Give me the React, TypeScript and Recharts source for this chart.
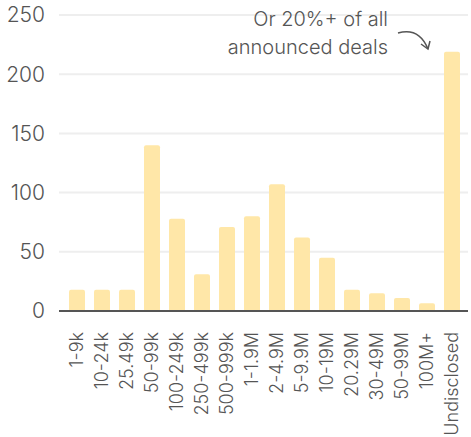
import { BarChart, Bar, XAxis, YAxis, CartesianGrid } from 'recharts'

// deal size buckets and deal counts
const CATEGORIES = [
  '1-9k', '10-24k', '25.49k', '50-99k', '100-249k', '250-499k', '500-999k',
  '1-1.9M', '2-4.9M', '5-9.9M', '10-19M', '20.29M', '30-49M', '50-99M', '100M+', 'Undisclosed',
]
const DEALS = [18, 18, 18, 140, 78, 31, 71, 80, 107, 62, 45, 18, 15, 11, 6.5, 219]
const Y_TICKS = [0, 50, 100, 150, 200, 250]

const FONT = 'Inter, "Noto Sans", sans-serif'
const INK = '#555555'

const data = CATEGORIES.map((name, i) => ({ name, deals: DEALS[i] }))

function RotatedTick(props: any) {
  const { x, y, payload } = props
  return (
    <text
      transform={`translate(${x + 6},${y + 13}) rotate(-90)`}
      textAnchor="end"
      fill={INK}
      fontSize={18}
      fontWeight={300}
      fontFamily={FONT}
    >
      {payload.value}
    </text>
  )
}

export default function App() {
  return (
    <div style={{ position: 'absolute', left: 0, top: 0, background: '#fff' }}>
      <BarChart
        width={471}
        height={437}
        data={data}
        margin={{ top: 15, right: 3, bottom: 0, left: 0 }}
        barSize={16}
      >
        <CartesianGrid vertical={false} stroke="#eeeeee" strokeWidth={2} />
        <XAxis
          dataKey="name"
          interval={0}
          height={126}
          padding={{ left: 5, right: 4 }}
          axisLine={{ stroke: INK, strokeWidth: 2 }}
          tickLine={false}
          tick={<RotatedTick />}
        />
        <YAxis
          width={59}
          domain={[0, 250]}
          ticks={Y_TICKS}
          axisLine={false}
          tickLine={false}
          tickMargin={8}
          tick={{ fill: INK, fontSize: 21, fontWeight: 300, fontFamily: FONT }}
        />
        <Bar dataKey="deals" fill="#ffe7a8" radius={[2, 2, 0, 0]} isAnimationActive={false} />
        <text x={388} y={26} textAnchor="end" fill={INK} fontSize={20} fontWeight={300} fontFamily={FONT}>
          Or 20%+ of all
        </text>
        <text x={388} y={54} textAnchor="end" fill={INK} fontSize={20} fontWeight={300} fontFamily={FONT}>
          announced deals
        </text>
        <path d="M398 33 Q419 27 428 49" fill="none" stroke={INK} strokeWidth={1.5} />
        <path d="M421 44 L428 49 L430 41" fill="none" stroke={INK} strokeWidth={1.5} />
      </BarChart>
    </div>
  )
}
